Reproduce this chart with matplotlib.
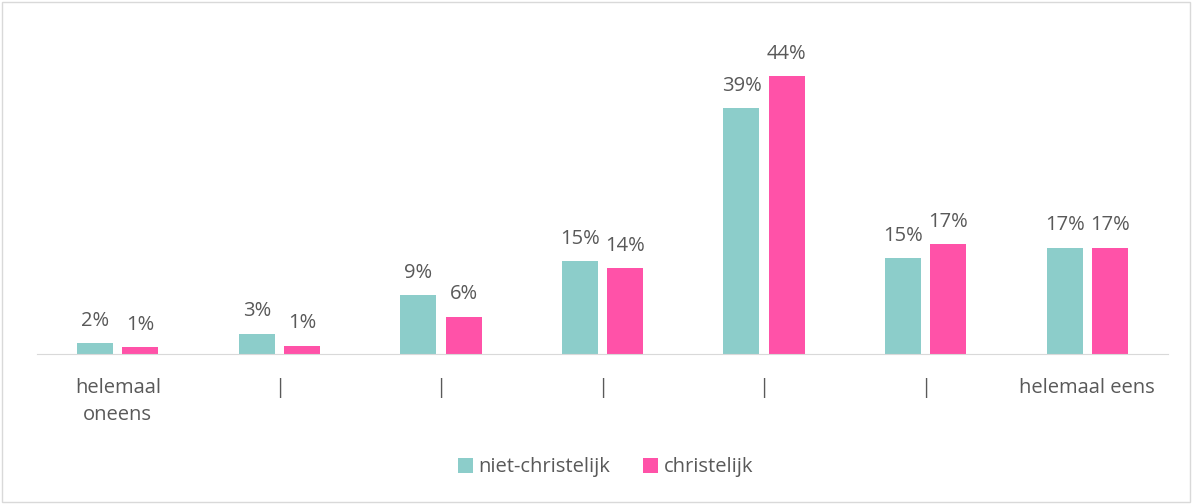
import numpy as np
import matplotlib.pyplot as plt
from matplotlib.patches import Rectangle

categories = ["helemaal\noneens", "|", "|", "|", "|", "|", "helemaal eens"]
niet_christelijk = [1.7, 3.2, 9.3, 14.7, 38.9, 15.2, 16.8]
christelijk = [1.1, 1.3, 5.9, 13.6, 44.0, 17.4, 16.8]

teal = "#8CCDCA"
pink = "#FF52A8"
txt = "#595959"

plt.rcParams["font.family"] = ["Open Sans", "DejaVu Sans"]

fig = plt.figure(figsize=(11.92, 5.04), dpi=100)
fig.patches.append(Rectangle((0.002, 0.003), 0.996, 0.994, transform=fig.transFigure,
                             fill=False, edgecolor="#D9D9D9", linewidth=1))

ax = fig.add_axes([37 / 1192, (504 - 354) / 504, (1168 - 37) / 1192, 334 / 504])
x = np.arange(len(categories))
w = 0.223
off = 0.14
b1 = ax.bar(x - off, niet_christelijk, w, color=teal, label="niet-christelijk")
b2 = ax.bar(x + off, christelijk, w, color=pink, label="christelijk")

for bars, vals in ((b1, niet_christelijk), (b2, christelijk)):
    for bar, v in zip(bars, vals):
        ax.annotate(f"{round(v):.0f}%", (bar.get_x() + bar.get_width() / 2, v),
                    xytext=(0, 9), textcoords="offset points", ha="center", va="bottom",
                    fontsize=14.5, color=txt)

ax.set_xlim(-0.5, 6.5)
ax.set_ylim(0, 52.9)
ax.set_yticks([])
ax.set_xticks(x)
ax.set_xticklabels(categories, fontsize=14.5, color=txt, linespacing=1.5)
ax.tick_params(axis="x", length=0, pad=17)
for s in ["top", "right", "left"]:
    ax.spines[s].set_visible(False)
ax.spines["bottom"].set_color("#D9D9D9")

fig.legend(handles=[b1, b2], loc="center", bbox_to_anchor=(0.508, 0.073), ncol=2,
           frameon=False, fontsize=14.5, labelcolor=txt, handlelength=0.75, handleheight=0.75,
           handletextpad=0.3, columnspacing=1.6)

fig.savefig("out.png", dpi=100)
